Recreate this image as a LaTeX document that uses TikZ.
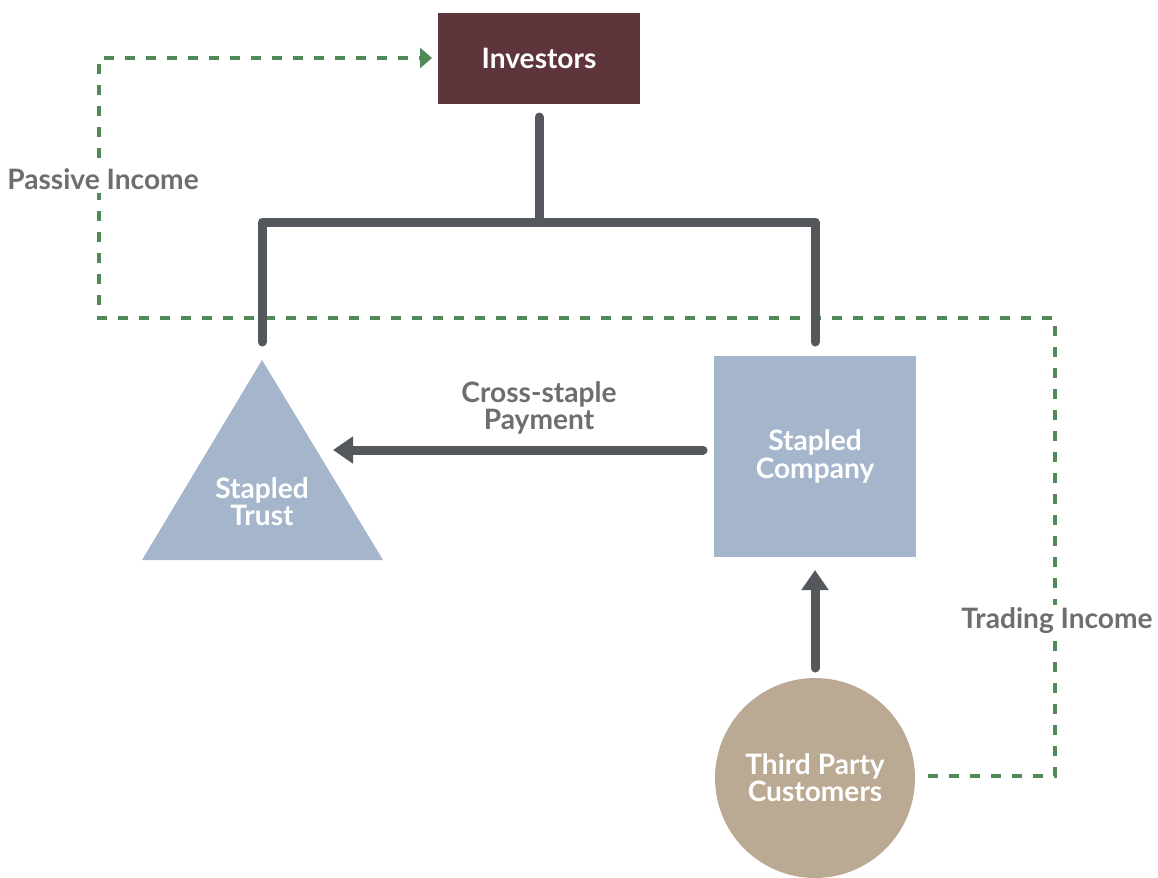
\documentclass[tikz,border=0pt]{standalone}
\usepackage{fontspec}
\setmainfont{Lato}
\usetikzlibrary{arrows.meta}
\definecolor{invred}{HTML}{5E353B}
\definecolor{entblue}{HTML}{A5B6CC}
\definecolor{custtan}{HTML}{BBAA93}
\definecolor{linegrey}{HTML}{54575B}
\definecolor{labgrey}{HTML}{6D6E71}
\definecolor{flowgreen}{HTML}{4F8A57}
\tikzset{
  entity/.style={font=\bfseries\fontsize{16}{15.5}\selectfont, text=white, align=center},
  tie/.style={linegrey, line width=0.18cm, line cap=round},
  flow/.style={flowgreen, line width=0.065cm, dash pattern=on 0.2cm off 0.22cm},
  lab/.style={font=\bfseries\fontsize{16}{15.5}\selectfont, text=labgrey, align=center, fill=white, inner sep=2pt}
}
\begin{document}
\begin{tikzpicture}[x=0.02cm, y=-0.02cm]
    \useasboundingbox (0,0) rectangle (1158,877);

    % Income flows (drawn first, under the ties)
    \coordinate (tradeend) at (928,776);
    \coordinate (passend) at (432,58);
    \draw[flow, -{Triangle[width=0.4cm,length=0.24cm]}] (tradeend) -- (1055,776) -- (1055,318) -- (99,318) -- (99,58) -- (passend);

    % Investors
    \node[entity, fill=invred, minimum width=4.04cm, minimum height=1.82cm] (inv) at (539,58) {Investors};

    % Stapled Trust triangle
    \fill[entblue] (262,360) -- (383,560) -- (142,560) -- cycle;
    \node[entity] (trust) at (262,502) {Stapled\\Trust};

    % Stapled Company box
    \node[entity, fill=entblue, minimum width=4.04cm, minimum height=4.02cm] (comp) at (815,456.5) {Stapled\\Company};

    % Third Party Customers circle
    \node[entity, fill=custtan, circle, minimum size=4.0cm] (cust) at (815,778) {Third Party\\Customers};

    % Ownership ties
    \coordinate (top) at (539,117);
    \coordinate (mid) at (539,222);
    \coordinate (ltie) at (262,342);
    \coordinate (rtie) at (815,342);
    \draw[tie] (top) -- (mid);
    \draw[tie, line join=round] (ltie) |- (mid) -| (rtie);

    % Cross-staple payment
    \coordinate (payfrom) at (703,450);
    \coordinate (payto) at (333,450);
    \draw[tie, -{Triangle[width=0.52cm,length=0.4cm]}] (payfrom) -- (payto);
    \node[lab] (paylab) at (539,408) {Cross-staple\\Payment};

    % Customers to company
    \coordinate (custup) at (815,668);
    \coordinate (compdn) at (815,570);
    \draw[tie, -{Triangle[width=0.52cm,length=0.4cm]}] (custup) -- (compdn);

    % Labels
    \node[lab] (passlab) at (103,179) {Passive Income};
    \node[lab] (tradelab) at (1057,621) {Trading Income};

\end{tikzpicture}
\end{document}
